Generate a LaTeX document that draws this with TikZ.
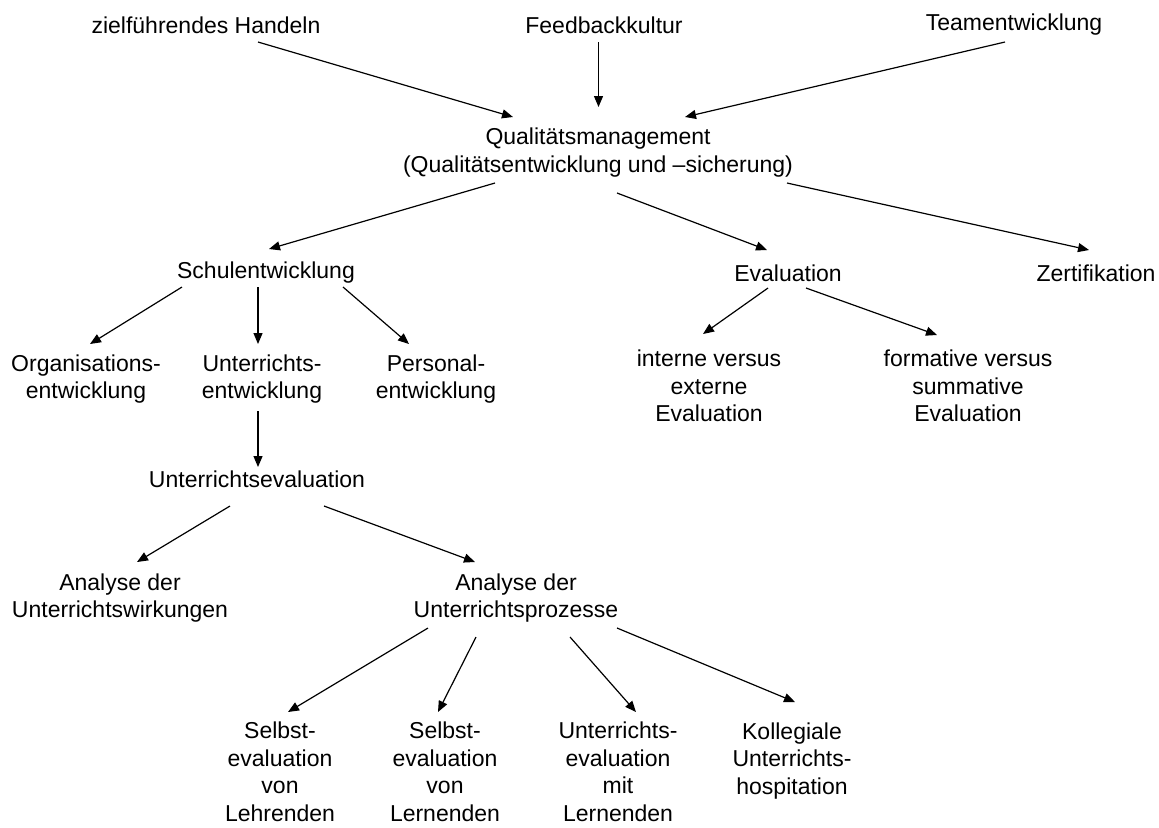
\documentclass[tikz,border=0pt]{standalone}
\usepackage{fontspec}
\setmainfont{Liberation Sans}
\usetikzlibrary{arrows.meta}

\begin{document}
\begin{tikzpicture}[x=0.5pt, y=-0.5pt,
    lbl/.style={font=\fontsize{11.5}{13.75}\selectfont, align=center, inner sep=0pt},
    pfeil/.style={-{Triangle[length=5.5pt, width=4.5pt]}, line width=0.6pt}]
  \useasboundingbox (0,0) rectangle (1159,827);

  % Obere Reihe
  \node[lbl] (zfh) at (206, 25) {zielführendes Handeln};
  \node[lbl] (fbk) at (604, 25) {Feedbackkultur};
  \node[lbl] (team) at (1014, 25) {Teamentwicklung};

  % Qualitaetsmanagement
  \node[lbl] (qm) at (598, 152.5) {Qualitätsmanagement\\(Qualitätsentwicklung und –sicherung)};
  \draw[pfeil] ([shift={(52,17)}]zfh.center) -- ([shift={(-85,-35.5)}]qm.center);
  \draw[pfeil] ([shift={(-5.5,17)}]fbk.center) -- ([shift={(0.5,-45.5)}]qm.center);
  \draw[pfeil] ([shift={(-9,17)}]team.center) -- ([shift={(87,-35.5)}]qm.center);

  % Zweite Ebene
  \node[lbl] (schul) at (266, 273) {Schulentwicklung};
  \node[lbl] (eval) at (788, 273) {Evaluation};
  \node[lbl] (zert) at (1096, 273) {Zertifikation};
  \draw[pfeil] ([shift={(-103,30.5)}]qm.center) -- ([shift={(3,-24)}]schul.center);
  \draw[pfeil] ([shift={(19,40.5)}]qm.center) -- ([shift={(-21,-23)}]eval.center);
  \draw[pfeil] ([shift={(189,30.5)}]qm.center) -- ([shift={(-7,-23)}]zert.center);

  % Schulentwicklung
  \node[lbl] (org) at (86, 379) {Organisations-\\entwicklung};
  \node[lbl] (unt) at (262, 379) {Unterrichts-\\entwicklung};
  \node[lbl] (pers) at (436, 379) {Personal-\\entwicklung};
  \draw[pfeil] ([shift={(-84,14)}]schul.center) -- ([shift={(4,-35)}]org.center);
  \draw[pfeil] ([shift={(-8,14)}]schul.center) -- ([shift={(-4,-35)}]unt.center);
  \draw[pfeil] ([shift={(77,14)}]schul.center) -- ([shift={(-27,-35)}]pers.center);

  % Evaluation
  \node[lbl] (intern) at (709, 386) {interne versus\\externe\\Evaluation};
  \node[lbl] (formativ) at (968, 386) {formative versus\\summative\\Evaluation};
  \draw[pfeil] ([shift={(-20,15)}]eval.center) -- ([shift={(-6,-52)}]intern.center);
  \draw[pfeil] ([shift={(18,15)}]eval.center) -- ([shift={(-31,-51)}]formativ.center);

  % Unterrichtsevaluation
  \node[lbl] (ue) at (257, 479) {Unterrichtsevaluation};
  \draw[pfeil] ([shift={(-4,32)}]unt.center) -- ([shift={(1,-12)}]ue.center);

  \node[lbl] (wirk) at (120, 598) {Analyse der\\Unterrichtswirkungen};
  \node[lbl] (proz) at (516, 598) {Analyse der\\Unterrichtsprozesse};
  \draw[pfeil] ([shift={(-27,27)}]ue.center) -- ([shift={(17,-36)}]wirk.center);
  \draw[pfeil] ([shift={(67,27)}]ue.center) -- ([shift={(-41,-36)}]proz.center);

  % Unterste Ebene
  \node[lbl] (sel1) at (280, 772) {Selbst-\\evaluation\\von\\Lehrenden};
  \node[lbl] (sel2) at (445, 772) {Selbst-\\evaluation\\von\\Lernenden};
  \node[lbl] (uemit) at (618, 772) {Unterrichts-\\evaluation\\mit\\Lernenden};
  \node[lbl] (koll) at (792, 761) {Kollegiale\\Unterrichts-\\hospitation};
  \draw[pfeil] ([shift={(-88,30)}]proz.center) -- ([shift={(8,-60)}]sel1.center);
  \draw[pfeil] ([shift={(-40,39)}]proz.center) -- ([shift={(-7,-60)}]sel2.center);
  \draw[pfeil] ([shift={(54,39)}]proz.center) -- ([shift={(18,-60)}]uemit.center);
  \draw[pfeil] ([shift={(101,30)}]proz.center) -- ([shift={(3,-59)}]koll.center);
\end{tikzpicture}
\end{document}
